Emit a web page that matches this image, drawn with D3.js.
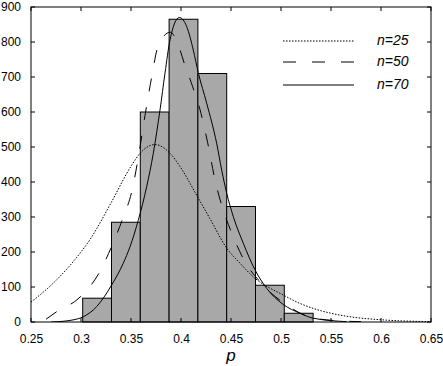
<!DOCTYPE html>
<html lang="en">
<head>
<meta charset="UTF-8">
<title>Histogram of p</title>
<script src="https://d3js.org/d3.v7.min.js"></script>
<style>
  body { margin: 0; background: #fff; }
  svg text { font-family: "Liberation Sans", Arial, sans-serif; }
</style>
</head>
<body>
<script>
// histogram: bin edges and counts
var binEdges = [0.3017, 0.3305, 0.3593, 0.3881, 0.4169, 0.4457, 0.4745, 0.5033, 0.5321];
var binCounts = [68, 285, 600, 865, 710, 330, 105, 25];

// curves: [p, value]
var curve25 = [[0.25,57],[0.27,105],[0.29,165],[0.31,240],[0.33,340],[0.35,445],[0.36,485],
  [0.374,507],[0.389,482],[0.40,440],[0.4157,362],[0.429,295],[0.4457,211],[0.459,168],
  [0.4723,129],[0.5023,77],[0.519,53],[0.532,39],[0.55,25],[0.569,15],[0.602,6],[0.65,1]];
var curve50 = [[0.265,8],[0.276,30],[0.297,66],[0.317,135],[0.332,225],[0.3423,300],[0.3507,372],
  [0.357,465],[0.364,590],[0.3707,700],[0.3773,790],[0.3893,828],[0.3967,796],[0.4033,739],
  [0.4117,672],[0.42,596],[0.4267,512],[0.434,406],[0.4415,326],[0.4515,249],[0.464,172],
  [0.479,115],[0.5023,55],[0.532,12],[0.56,3],[0.58,1]];
var curve70 = [[0.27,0],[0.29,5],[0.3023,15],[0.3157,44],[0.3307,106],[0.3423,168],[0.349,215],
  [0.3573,291],[0.3657,387],[0.3723,482],[0.379,606],[0.384,711],[0.389,806],[0.3983,870],
  [0.4057,844],[0.4123,777],[0.4173,712],[0.4257,625],[0.4357,510],[0.4407,434],[0.4457,368],
  [0.4523,301],[0.4623,225],[0.474,149],[0.4857,96],[0.5023,50],[0.519,25],[0.532,11],[0.5657,1]];

var xTicks = [0.25, 0.3, 0.35, 0.4, 0.45, 0.5, 0.55, 0.6, 0.65];
var yTicks = [0, 100, 200, 300, 400, 500, 600, 700, 800, 900];
var legendLabels = ["n=25", "n=50", "n=70"];

var w = 443, h = 366;
var pLeft = 31, pRight = 431, pTop = 7, pBottom = 322;

var svg = d3.select("body").append("svg")
    .attr("width", w)
    .attr("height", h);

var x = d3.scaleLinear().domain([0.25, 0.65]).range([pLeft, pRight]);
var y = d3.scaleLinear().domain([0, 900]).range([pBottom, pTop]);

svg.append("defs").append("clipPath").attr("id", "plot")
  .append("rect").attr("x", pLeft).attr("y", pTop)
  .attr("width", pRight - pLeft).attr("height", pBottom - pTop);

// bars
svg.selectAll("rect.bar")
    .data(binCounts)
    .enter()
    .append("rect")
    .attr("class", "bar")
    .attr("x", function(d, i){ return x(binEdges[i]); })
    .attr("y", function(d){ return y(d); })
    .attr("width", function(d, i){ return x(binEdges[i + 1]) - x(binEdges[i]); })
    .attr("height", function(d){ return y(0) - y(d); })
    .attr("fill", "#a8a8a8")
    .attr("stroke", "#000")
    .attr("stroke-width", 1);

var line = d3.line()
    .x(function(d){ return x(d[0]); })
    .y(function(d){ return y(d[1]); })
    .curve(d3.curveMonotoneX);

var styles = [
  { data: curve25, dash: "1.5,1.5", width: 1 },
  { data: curve50, dash: "13,16", width: 1 },
  { data: curve70, dash: null, width: 1 }
];

styles.forEach(function(s){
  svg.append("path")
    .datum(s.data)
    .attr("d", line)
    .attr("clip-path", "url(#plot)")
    .attr("fill", "none")
    .attr("stroke", "#000")
    .attr("stroke-width", s.width)
    .attr("stroke-dasharray", s.dash);
});

// axes: ticks inward on all four sides
var axisBottom = d3.axisBottom(x).tickValues(xTicks).tickSize(0).tickPadding(12)
    .tickFormat(d3.format("~g"));
var axisLeft = d3.axisLeft(y).tickValues(yTicks).tickSize(0).tickPadding(10);

var gx = svg.append("g").attr("transform", "translate(0," + pBottom + ")").call(axisBottom);
var gy = svg.append("g").attr("transform", "translate(" + pLeft + ",0)").call(axisLeft);
[gx, gy].forEach(function(g){
  g.select(".domain").remove();
  g.selectAll("text").attr("font-size", 12).attr("fill", "#000")
    .attr("font-family", "Liberation Sans, Arial, sans-serif");
});

var tk = 4;
var ticks = svg.append("g").attr("stroke", "#000").attr("stroke-width", 1);
xTicks.forEach(function(t){
  ticks.append("line").attr("x1", x(t)).attr("x2", x(t)).attr("y1", pBottom).attr("y2", pBottom - tk);
  ticks.append("line").attr("x1", x(t)).attr("x2", x(t)).attr("y1", pTop).attr("y2", pTop + tk);
});
yTicks.forEach(function(t){
  ticks.append("line").attr("x1", pLeft).attr("x2", pLeft + tk).attr("y1", y(t)).attr("y2", y(t));
  ticks.append("line").attr("x1", pRight).attr("x2", pRight - tk).attr("y1", y(t)).attr("y2", y(t));
});

svg.append("rect")
    .attr("x", pLeft).attr("y", pTop)
    .attr("width", pRight - pLeft).attr("height", pBottom - pTop)
    .attr("fill", "none").attr("stroke", "#000").attr("stroke-width", 1);

// axis label
svg.append("text")
    .attr("x", 231).attr("y", 361)
    .attr("text-anchor", "middle")
    .attr("font-style", "italic")
    .attr("font-size", 17)
    .text("p");

// legend
var legendY = [41, 62, 85];
var legend = svg.append("g");
styles.forEach(function(s, i){
  legend.append("line")
    .attr("x1", 283).attr("x2", 354)
    .attr("y1", legendY[i]).attr("y2", legendY[i])
    .attr("stroke", "#000").attr("stroke-width", s.width)
    .attr("stroke-dasharray", s.dash);
  legend.append("text")
    .attr("x", 377).attr("y", legendY[i] + 4)
    .attr("font-style", "italic")
    .attr("font-size", 14)
    .text(legendLabels[i]);
});
</script>
</body>
</html>
